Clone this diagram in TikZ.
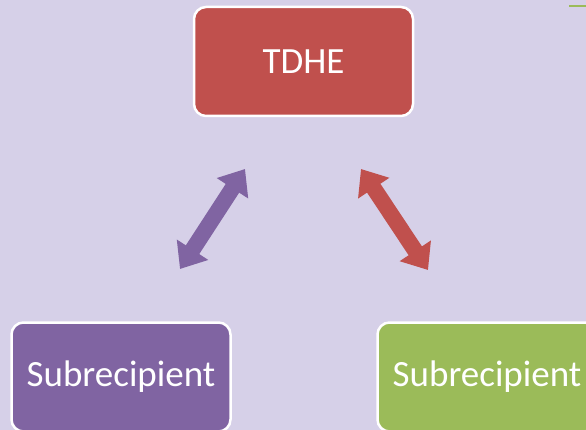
\documentclass[tikz,border=0pt]{standalone}
\usepackage{fontspec}
\setmainfont{Carlito}
\usetikzlibrary{arrows.meta}
\definecolor{bg}{HTML}{D6D0E8}
\definecolor{cred}{HTML}{C0504D}
\definecolor{cpurple}{HTML}{8064A2}
\definecolor{cgreen}{HTML}{9BBB59}
\begin{document}
\begin{tikzpicture}[x=1pt,y=-1pt,
  box/.style={draw=white, line width=2.5pt, rounded corners=12pt, minimum width=219pt, minimum height=109pt, inner sep=0pt, text=white, font=\fontsize{37}{42}\selectfont},
  fat/.style={line width=16pt, {Triangle[width=36pt,length=23pt]}-{Triangle[width=36pt,length=23pt]}}]
\fill[bg] (0,0) rectangle (586,430);
\useasboundingbox (0,0) rectangle (586,430);
\node[box, fill=cred] (tdhe) at (303.5,61.5) {TDHE};
\node[box, fill=cpurple] (left) at (121,377) {Subrecipient};
\node[box, fill=cgreen] (right) at (487,377) {Subrecipient};
\coordinate (a1) at (245,169);
\coordinate (a2) at (180,269);
\coordinate (b1) at (361,169);
\coordinate (b2) at (428,270);
\draw[fat, cpurple] (a1) -- (a2);
\draw[fat, cred] (b1) -- (b2);
\coordinate (g1) at (569,6);
\coordinate (g2) at (586,6);
\draw[cgreen, line width=2.5pt] (g1) -- (g2);
\end{tikzpicture}
\end{document}
